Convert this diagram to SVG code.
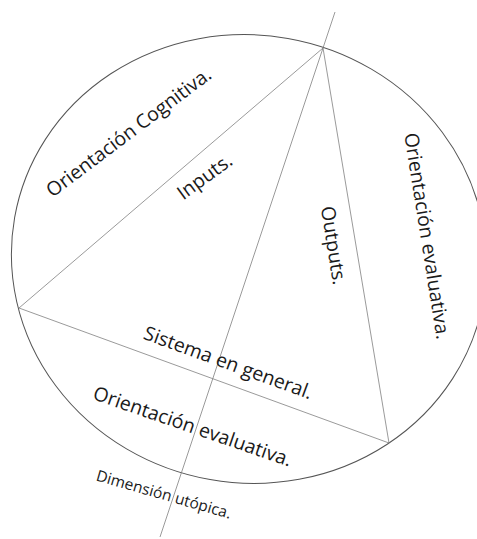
<svg xmlns="http://www.w3.org/2000/svg" width="477" height="539" viewBox="0 0 477 539">
<style>
.ln{stroke:#808080;stroke-width:0.8;fill:none}
.rim{stroke:#555555;stroke-width:1;fill:none}
.t{font-family:"Open Sans","Liberation Sans",sans-serif;fill:#1a1a1a;text-anchor:middle}
.b{font-size:19.5px}
.s{font-size:15.5px}
</style>
<rect width="477" height="539" fill="#ffffff"/>
<g id="outline">
<ellipse class="rim" cx="0" cy="0" rx="238" ry="224" transform="translate(249,259) rotate(10)"/>
</g>
<g id="connectors">
<line class="ln" x1="335" y1="12" x2="160" y2="537"/>
<line class="ln" x1="323" y1="48" x2="19" y2="308"/>
<line class="ln" x1="323" y1="48" x2="389" y2="443"/>
<line class="ln" x1="19" y1="308" x2="389" y2="443"/>
</g>
<g id="labels">
<text class="t b" transform="translate(132.7,137.5) rotate(-37)">Orientación Cognitiva.</text>
<text class="t b" transform="translate(208.5,182) rotate(-36)">Inputs.</text>
<text class="t b" transform="translate(327,246.5) rotate(81)">Outputs.</text>
<text class="t b" transform="translate(420.5,237) rotate(81)">Orientación evaluativa.</text>
<text class="t b" transform="translate(226,369) rotate(20)">Sistema en general.</text>
<text class="t b" transform="translate(190.4,432.8) rotate(19)">Orientación evaluativa.</text>
<text class="t s" transform="translate(162.4,499.5) rotate(16)">Dimensión utópica.</text>
</g>
</svg>
